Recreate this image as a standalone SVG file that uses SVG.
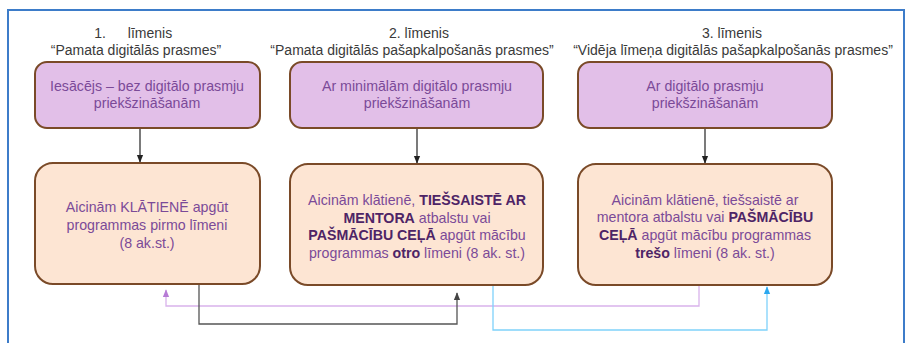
<svg xmlns="http://www.w3.org/2000/svg" width="910" height="343" viewBox="0 0 910 343">
<style>
text{font-family:"Liberation Sans",Arial,sans-serif;}
.hd{font-size:14px;fill:#3a3a3a;text-anchor:middle;}
.tp{fill:#E2BFE8;stroke:#7A4A28;stroke-width:2;}
.bt{fill:#FDE5D3;stroke:#7A4A28;stroke-width:2;}
.tx{font-size:14.2px;fill:#7B4A98;text-anchor:middle;}
.b{font-weight:bold;fill:#4E2466;}
.c{fill:none;stroke-width:1.3;}
</style>
<defs>
<marker id="ak" viewBox="0 0 10 10" refX="9" refY="5" markerWidth="6" markerHeight="6" orient="auto"><path d="M0,1 L10,5 L0,9 z" fill="#222"/></marker>
<marker id="ag" viewBox="0 0 10 10" refX="9" refY="5" markerWidth="6" markerHeight="6" orient="auto"><path d="M0,1 L10,5 L0,9 z" fill="#444"/></marker>
<marker id="ap" viewBox="0 0 10 10" refX="9" refY="5" markerWidth="6" markerHeight="6" orient="auto"><path d="M0,1 L10,5 L0,9 z" fill="#B77BD6"/></marker>
<marker id="ab" viewBox="0 0 10 10" refX="9" refY="5" markerWidth="6" markerHeight="6" orient="auto"><path d="M0,1 L10,5 L0,9 z" fill="#2AA8F0"/></marker>
</defs>
<rect x="0" y="0" width="910" height="343" fill="#fff"/>
<rect x="8" y="10" width="896" height="350" fill="none" stroke="#3D7CC9" stroke-width="2"/>

<g id="headers">
<text class="hd" x="100" y="38" text-anchor="start">1.</text>
<text class="hd" x="150" y="38">līmenis</text>
<text class="hd" x="136" y="55">“Pamata digitālās prasmes”</text>
<text class="hd" x="419" y="38">2. līmenis</text>
<text class="hd" x="412" y="55">“Pamata digitālās pašapkalpošanās prasmes”</text>
<text class="hd" x="732" y="38">3. līmenis</text>
<text class="hd" x="733" y="55">“Vidēja līmeņa digitālās pašapkalpošanās prasmes”</text>
</g>

<g id="connectors">
<line class="c" x1="140" y1="129" x2="140" y2="162" stroke="#333" marker-end="url(#ak)"/>
<line class="c" x1="417" y1="129" x2="417" y2="163" stroke="#333" marker-end="url(#ak)"/>
<line class="c" x1="705" y1="129" x2="705" y2="163" stroke="#333" marker-end="url(#ak)"/>
<polyline class="c" points="699,286 699,306 166,306 166,290" stroke="#D9B3EC" marker-end="url(#ap)"/>
<polyline class="c" points="199,284 199,324 457,324 457,293" stroke="#555" marker-end="url(#ag)"/>
<polyline class="c" points="493,286 493,330 767,330 767,287" stroke="#7FD2FA" marker-end="url(#ab)"/>
</g>

<g id="n1a">
<rect class="tp" x="35" y="62" width="225" height="66" rx="12"/>
<text class="tx" x="147" y="91">Iesācējs – bez digitālo prasmju</text>
<text class="tx" x="147" y="108">priekšzināšanām</text>
</g>
<g id="n2a">
<rect class="tp" x="290" y="62" width="253" height="66" rx="12"/>
<text class="tx" x="417" y="91">Ar minimālām digitālo prasmju</text>
<text class="tx" x="417" y="108">priekšzināšanām</text>
</g>
<g id="n3a">
<rect class="tp" x="578" y="62" width="254" height="66" rx="12"/>
<text class="tx" x="705" y="91">Ar digitālo prasmju</text>
<text class="tx" x="705" y="108">priekšzināšanām</text>
</g>

<g id="n1b">
<rect class="bt" x="35" y="163" width="225" height="121" rx="18"/>
<text class="tx" x="147" y="212">Aicinām KLĀTIENĒ apgūt</text>
<text class="tx" x="147" y="230">programmas pirmo līmeni</text>
<text class="tx" x="147" y="248">(8 ak.st.)</text>
</g>
<g id="n2b">
<rect class="bt" x="290" y="164" width="253" height="121" rx="18"/>
<text class="tx" x="417" y="205">Aicinām klātienē, <tspan class="b">TIEŠSAISTĒ AR</tspan></text>
<text class="tx" x="417" y="223"><tspan class="b">MENTORA</tspan> atbalstu vai</text>
<text class="tx" x="417" y="240"><tspan class="b">PAŠMĀCĪBU CEĻĀ</tspan> apgūt mācību</text>
<text class="tx" x="417" y="258">programmas <tspan class="b">otro</tspan> līmeni (8 ak. st.)</text>
</g>
<g id="n3b">
<rect class="bt" x="578" y="164" width="254" height="121" rx="18"/>
<text class="tx" x="705" y="205">Aicinām klātienē, tiešsaistē ar</text>
<text class="tx" x="705" y="222">mentora atbalstu vai <tspan class="b">PAŠMĀCĪBU</tspan></text>
<text class="tx" x="705" y="240"><tspan class="b">CEĻĀ</tspan> apgūt mācību programmas</text>
<text class="tx" x="705" y="258"><tspan class="b">trešo</tspan> līmeni (8 ak. st.)</text>
</g>
</svg>
